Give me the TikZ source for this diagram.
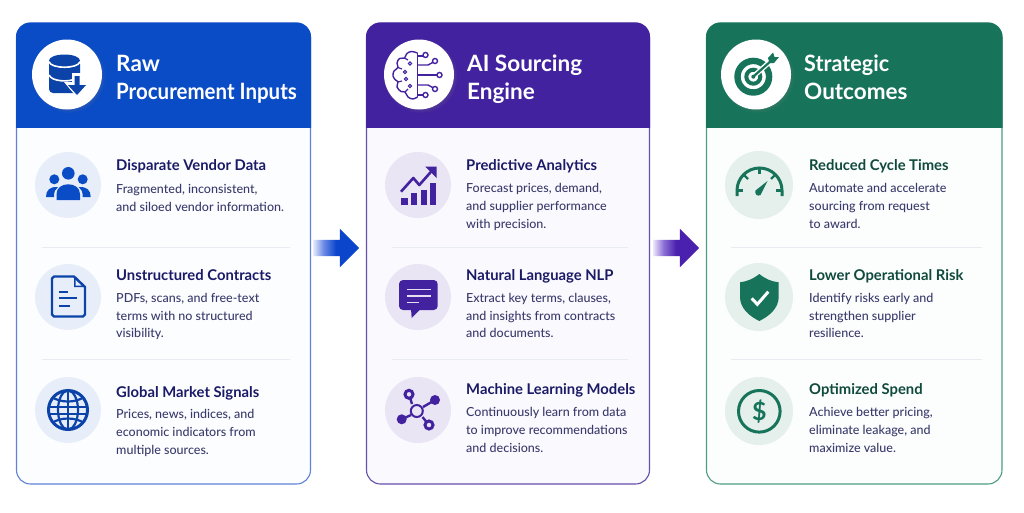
\documentclass[tikz,border=0pt]{standalone}
\usepackage{fontspec}
\usetikzlibrary{shapes.arrows,shadows}
\setmainfont{Lato Medium}[BoldFont=Lato Bold]
\newfontfamily\hdrfont{Lato Bold}
\newfontfamily\hdrnarrow[FakeStretch=.91]{Lato Bold}
\newfontfamily\hdrtight[FakeStretch=.96]{Lato Bold}
\definecolor{blueH}{HTML}{0A4BC6}
\definecolor{purpH}{HTML}{43229F}
\definecolor{greenH}{HTML}{17745A}
\definecolor{blueB}{HTML}{5F82D8}
\definecolor{purpB}{HTML}{6450AE}
\definecolor{greenB}{HTML}{4F9C84}
\definecolor{blueT}{HTML}{FCFDFF}
\definecolor{purpT}{HTML}{FAF9FE}
\definecolor{greenT}{HTML}{FCFDFD}
\definecolor{blueC}{HTML}{E8EEF9}
\definecolor{purpC}{HTML}{E9E5F5}
\definecolor{greenC}{HTML}{E5F0EC}
\definecolor{blueI}{HTML}{0B43A8}
\definecolor{titleN}{HTML}{1A1A66}
\definecolor{titleG}{HTML}{0F4A3C}
\definecolor{descN}{HTML}{3A3A6C}
\definecolor{sepL}{HTML}{E8EBF2}
\definecolor{aLight}{HTML}{E6EBFB}
\definecolor{bLight}{HTML}{EDE6FB}
\definecolor{aMid}{HTML}{6F8CE6}
\definecolor{bMid}{HTML}{8E72D6}
\definecolor{aFull}{HTML}{0A45CC}
\definecolor{bFull}{HTML}{4A20AE}
\pgfdeclarehorizontalshading{arrowblue}{100bp}{color(0bp)=(aLight); color(25bp)=(aLight); color(36bp)=(aMid); color(50bp)=(aFull); color(100bp)=(aFull)}
\pgfdeclarehorizontalshading{arrowpurp}{100bp}{color(0bp)=(bLight); color(25bp)=(bLight); color(36bp)=(bMid); color(50bp)=(bFull); color(100bp)=(bFull)}
\tikzset{
  cardbox/.style={rectangle,rounded corners=14pt,inner sep=0pt,line width=1.1pt},
  hdrtxt/.style={anchor=west,inner sep=0pt,align=left,text=white,font=\hdrfont\fontsize{22.5}{28}\selectfont},
  ttl/.style={anchor=base west,inner sep=0pt,font=\bfseries\fontsize{14.8}{17}\selectfont},
  dsc/.style={anchor=west,inner sep=0pt,align=left,text=descN,font=\fontsize{12.5}{17.7}\selectfont},
  hdrcirc/.style={circle,fill=white,minimum size=70pt,inner sep=0pt,circular drop shadow={shadow scale=1.06,opacity=.25}},
  iconbg/.style={circle,minimum size=66pt,inner sep=0pt},
  sepline/.style={sepL,line width=1pt},
  flow/.style={single arrow,minimum height=46pt,minimum width=38pt,single arrow head extend=11pt,inner sep=0pt,draw=none}
}
\newcommand{\carditem}[7]{%
  \node[ttl,text=#4] (#1t) at (#2,#3+5) {#5};
  \node[dsc] (#1d) at (#2,#6+.8) {\strut #7\strut};
}
\newcommand{\cardframe}[6]{% name x0 x1 header border tint
  \node[cardbox,draw=#5,fill=#6,minimum width=#3pt-#2pt,minimum height=461pt] (#1) at ({(#2+#3)/2},253.5) {};
  \begin{scope}
    \clip (#2-1,22) rectangle (#3+1,127);
    \fill[#4,rounded corners=14.5pt] (#2-.5,22.5) rectangle (#3+.5,170);
  \end{scope}
}
\begin{document}
\begin{tikzpicture}[x=1pt,y=-1pt,line cap=butt]
\useasboundingbox (0,0) rectangle (1024,512);
\fill[white] (0,0) rectangle (1024,512);
% ---- cards
\cardframe{card1}{16.5}{310.5}{blueH}{blueB}{blueT}
\cardframe{card2}{366.5}{649.5}{purpH}{purpB}{purpT}
\cardframe{card3}{706.5}{1002}{greenH}{greenB}{greenT}
% ---- flow arrows
\node[flow,shading=arrowblue] (flow1) at (332,248) {\rule{0pt}{16pt}};
\node[flow,shading=arrowpurp] (flow2) at (672,248) {\rule{0pt}{16pt}};
% ---- header circles and texts
\node[hdrcirc] (h1) at (67,74.5) {};
\node[hdrcirc] (h2) at (419,74.5) {};
\node[hdrcirc] (h3) at (756,74.5) {};
\node[hdrtxt] (h1t) at (116,80) {\strut Raw\\{\hdrnarrow\fontsize{22.5}{28}\selectfont Procurement Inputs}\strut};
\node[hdrtxt] (h2t) at (467,80) {\strut AI Sourcing\\Engine\strut};
\node[hdrtxt] (h3t) at (804,80) {\hdrtight\strut Strategic\\Outcomes\strut};
% ---- separators
\draw[sepline] (42,247) -- (290,247);
\draw[sepline] (42,359.5) -- (290,359.5);
\draw[sepline] (392,247) -- (628,247);
\draw[sepline] (392,359.5) -- (628,359.5);
\draw[sepline] (731,247) -- (982,247);
\draw[sepline] (731,359.5) -- (982,359.5);
% ---- icon discs
\node[iconbg,fill=blueC] (i11) at (68,185) {};
\node[iconbg,fill=blueC] (i12) at (68,297) {};
\node[iconbg,fill=blueC] (i13) at (68,410) {};
\node[iconbg,fill=purpC] (i21) at (418,185) {};
\node[iconbg,fill=purpC] (i22) at (418,297) {};
\node[iconbg,fill=purpC] (i23) at (418,410) {};
\node[iconbg,fill=greenC,minimum size=68pt] (i31) at (759,185) {};
\node[iconbg,fill=greenC,minimum size=68pt] (i32) at (759,297) {};
\node[iconbg,fill=greenC,minimum size=68pt] (i33) at (759,411) {};
% ---- item texts
\carditem{a}{116}{165}{titleN}{Disparate Vendor Data}{198}{Fragmented, inconsistent,\\and siloed vendor information.}
\carditem{b}{116}{275}{titleN}{Unstructured Contracts}{315.7}{PDFs, scans, and free-text\\terms with no structured\\visibility.}
\carditem{c}{116}{392}{titleN}{Global Market Signals}{432}{Prices, news, indices, and\\economic indicators from\\multiple sources.}
\carditem{d}{466}{165}{titleN}{Predictive Analytics}{206}{Forecast prices, demand,\\and supplier performance\\with precision.}
\carditem{e}{466}{275}{titleN}{Natural Language NLP}{315.7}{Extract key terms, clauses,\\and insights from contracts\\and documents.}
\carditem{f}{466}{389}{titleN}{Machine Learning Models}{430}{Continuously learn from data\\to improve recommendations\\and decisions.}
\carditem{g}{809}{165}{titleG}{Reduced Cycle Times}{206}{Automate and accelerate\\sourcing from request\\to award.}
\carditem{h}{809}{275}{titleG}{Lower Operational Risk}{315.7}{Identify risks early and\\strengthen supplier\\resilience.}
\carditem{k}{809}{389}{titleG}{Optimized Spend}{430}{Achieve better pricing,\\eliminate leakage, and\\maximize value.}
% ---- database icon
\fill[blueI,rounded corners=4pt] (49,60) rectangle (80,93);
\fill[blueI] (64.5,60.5) ellipse [x radius=15.5,y radius=6];
\draw[white,line width=1.6pt] (49,62) .. controls (52,69) and (77,69) .. (80,62);
\draw[white,line width=1.6pt] (49,75) .. controls (52,82) and (70,82) .. (74,79);
\fill[white] (72,73) -- (82,73) -- (82,82) -- (90,82) -- (77,97.5) -- (64,82) -- (72,82) -- cycle;
\fill[blueI] (74.5,76) -- (79.5,76) -- (79.5,85) -- (86,85) -- (77,95) -- (68,85) -- (74.5,85) -- cycle;
% ---- people icon
\fill[blueH] (68.3,173.3) circle [radius=6.3];
\fill[blueH] (54.3,179.3) circle [radius=5];
\fill[blueH] (82.7,179.3) circle [radius=5];
\fill[blueH] (56.5,200) -- (56.5,194) .. controls (56.5,181) and (80,181) .. (80,194) -- (80,200) -- cycle;
\fill[blueH] (46,197) .. controls (46,190) and (50,186.5) .. (58,187) .. controls (55,189) and (54,192) .. (54,197) -- cycle;
\fill[blueH] (90.7,197) .. controls (90.7,190) and (86.7,186.5) .. (78.7,187) .. controls (81.7,189) and (82.7,192) .. (82.7,197) -- cycle;
% ---- document icon
\draw[blueI,line width=2.4pt,line join=round] (74,276.5) -- (54,276.5) -- (52,278.5) -- (52,314.5) -- (54,316.5) -- (83,316.5) -- (85,314.5) -- (85,287) -- cycle;
\fill[blueI] (74,277) -- (74,287) -- (85,287) -- cycle;
\fill[blueC] (75.5,280) -- (75.5,285.5) -- (81.5,285.5) -- cycle;
\draw[blueI,line width=2.2pt] (59.3,291.7) -- (68.3,291.7);
\draw[blueI,line width=2.2pt] (59.3,298.3) -- (77.3,298.3);
\draw[blueI,line width=2.2pt] (59.3,305.7) -- (70,305.7);
% ---- globe icon
\draw[blueI,line width=3pt] (68,410) circle [radius=19.5];
\draw[blueI,line width=2.2pt] (68,410) ellipse [x radius=10,y radius=19.5];
\draw[blueI,line width=2.2pt] (68,390) -- (68,430);
\draw[blueI,line width=2.2pt] (52,397) .. controls (60,403) and (76,403) .. (84,397);
\draw[blueI,line width=2.2pt] (48.5,407) -- (87.5,407);
\draw[blueI,line width=2.2pt] (48.5,414) -- (87.5,414);
\draw[blueI,line width=2.2pt] (52,423) .. controls (60,417) and (76,417) .. (84,423);
% ---- brain icon
\draw[purpH,line width=1.4pt,line join=round] plot[smooth,tension=.6] coordinates {(417.5,53)(411,51.5)(406.5,54)(404.5,58)(399.5,58.5)(397,63)(398,67.5)(394,71)(393,76)(395.5,80)(398,82)(397,87)(401,91.5)(405,92)(408,97)(413,99)(417.5,97)};
\draw[purpH,line width=1.4pt] (417.5,53) -- (417.5,97);
\draw[purpH,line width=1.2pt] (404.5,58) -- (408,60);
\draw[purpH,line width=1.2pt] (398,67.5) -- (402,69);
\draw[purpH,line width=1.2pt] (398,82) -- (402,81);
\draw[purpH,line width=1.2pt] (405,92) -- (408,89);
\draw[purpH,line width=1.1pt] (410,63.5) circle [radius=1.7];
\draw[purpH,line width=1.1pt] (405,72) circle [radius=1.7];
\draw[purpH,line width=1.1pt] (406,79) circle [radius=1.7];
\draw[purpH,line width=1.1pt] (410,86) circle [radius=1.7];
\draw[purpH,line width=1.4pt] (417.5,56) -- (423,56);
\draw[purpH,line width=1.4pt] (425.5,55) circle [radius=2.5];
\draw[purpH,line width=1.4pt] (417.5,65) -- (428,65) -- (432.7,62.5);
\draw[purpH,line width=1.4pt] (435,61) circle [radius=2.5];
\draw[purpH,line width=1.4pt] (417.5,75) -- (437,75);
\draw[purpH,line width=1.4pt] (439.5,75) circle [radius=2.5];
\draw[purpH,line width=1.4pt] (417.5,85) -- (428,85) -- (432.7,87.5);
\draw[purpH,line width=1.4pt] (435,89) circle [radius=2.5];
\draw[purpH,line width=1.4pt] (417.5,95) -- (423,95);
\draw[purpH,line width=1.4pt] (425.5,95) circle [radius=2.5];
% ---- chart icon
\fill[purpH] (401,198) rectangle (407.7,205);
\fill[purpH] (411,192.7) rectangle (416.7,205);
\fill[purpH] (420.7,190) rectangle (426.7,205);
\fill[purpH] (430,182.7) rectangle (436,205);
\draw[purpH,line width=2.6pt,line join=round] (401,191.7) -- (413.3,178) -- (419.3,185) -- (433,169.5);
\fill[purpH] (425,166.5) -- (436.5,166.5) -- (436.5,178) -- cycle;
% ---- chat icon
\fill[purpH,rounded corners=4pt] (399,280) rectangle (437.7,310);
\fill[purpH] (411,309) -- (420.5,309) -- (411.7,318) -- cycle;
\draw[white!85!purpH,line width=1.6pt] (406.7,289.3) -- (430.7,289.3);
\draw[white!85!purpH,line width=1.6pt] (406.7,295.7) -- (430.7,295.7);
\draw[white!85!purpH,line width=1.6pt] (406.7,302.3) -- (419.3,302.3);
% ---- network icon
\draw[purpH,line width=2.4pt] (409,394.3) -- (412,404);
\draw[purpH,line width=2.4pt] (435,400) -- (423,407);
\draw[purpH,line width=2.4pt] (401.7,419.3) -- (411,415);
\draw[purpH,line width=2.4pt] (429,425) -- (422.5,417);
\draw[purpH,line width=2pt] (416.8,411) circle [radius=6];
\fill[purpC] (409,394.3) circle [radius=3];
\draw[purpH,line width=3pt] (409,394.3) circle [radius=4];
\fill[purpH] (435,400) circle [radius=5];
\fill[purpH] (401.7,419.3) circle [radius=5];
\fill[purpC] (429,425) circle [radius=3];
\draw[purpH,line width=3pt] (429,425) circle [radius=4];
% ---- target icon
\draw[greenH,line width=6.4pt] (753.3,76.7) circle [radius=15.8];
\draw[greenH,line width=4pt] (753.3,76.7) circle [radius=7];
\fill[greenH] (753.3,76.7) circle [radius=2];
\draw[white,line width=5pt] (755,75) -- (773,59);
\draw[greenH,line width=2.2pt] (754,76) -- (772,60);
\fill[greenH] (768,58) -- (773,52.5) -- (774.5,57) -- (779,57) -- (774,63) -- (769.5,63) -- cycle;
% ---- gauge icon
\draw[greenH,line width=3pt] (737,196) -- (737,190.5) arc [start angle=180,end angle=360,radius=22.5] -- (782,196);
\draw[greenH,line width=2.2pt] (759.5,168) -- (759.5,174);
\draw[greenH,line width=2.2pt] (744,175) -- (748,179);
\draw[greenH,line width=2.2pt] (775,175) -- (771,179);
\draw[greenH,line width=2.2pt] (737,190.5) -- (743,190.5);
\draw[greenH,line width=2.2pt] (782,190.5) -- (776,190.5);
\fill[greenH] (767.5,181) -- (760.5,195) .. controls (757,197) and (754.5,194) .. (755.5,190.5) -- cycle;
% ---- shield icon
\fill[greenH] (759.3,274) .. controls (753,279) and (747,281.5) .. (740,282.3) -- (740,297) .. controls (740,308) and (749,316) .. (759.3,321) .. controls (769.5,316) and (778.7,308) .. (778.7,297) -- (778.7,282.3) .. controls (771.5,281.5) and (765.5,279) .. cycle;
\draw[white,line width=3pt] (751.7,298.3) -- (757.3,304.3) -- (768.3,291.7);
% ---- dollar icon
\draw[greenH,line width=3pt] (759.3,411.3) circle [radius=20.8];
\node[inner sep=0pt,text=greenH,font=\bfseries\fontsize{25}{25}\selectfont] (dollar) at (759.3,411.3) {\$};
\end{tikzpicture}
\end{document}
